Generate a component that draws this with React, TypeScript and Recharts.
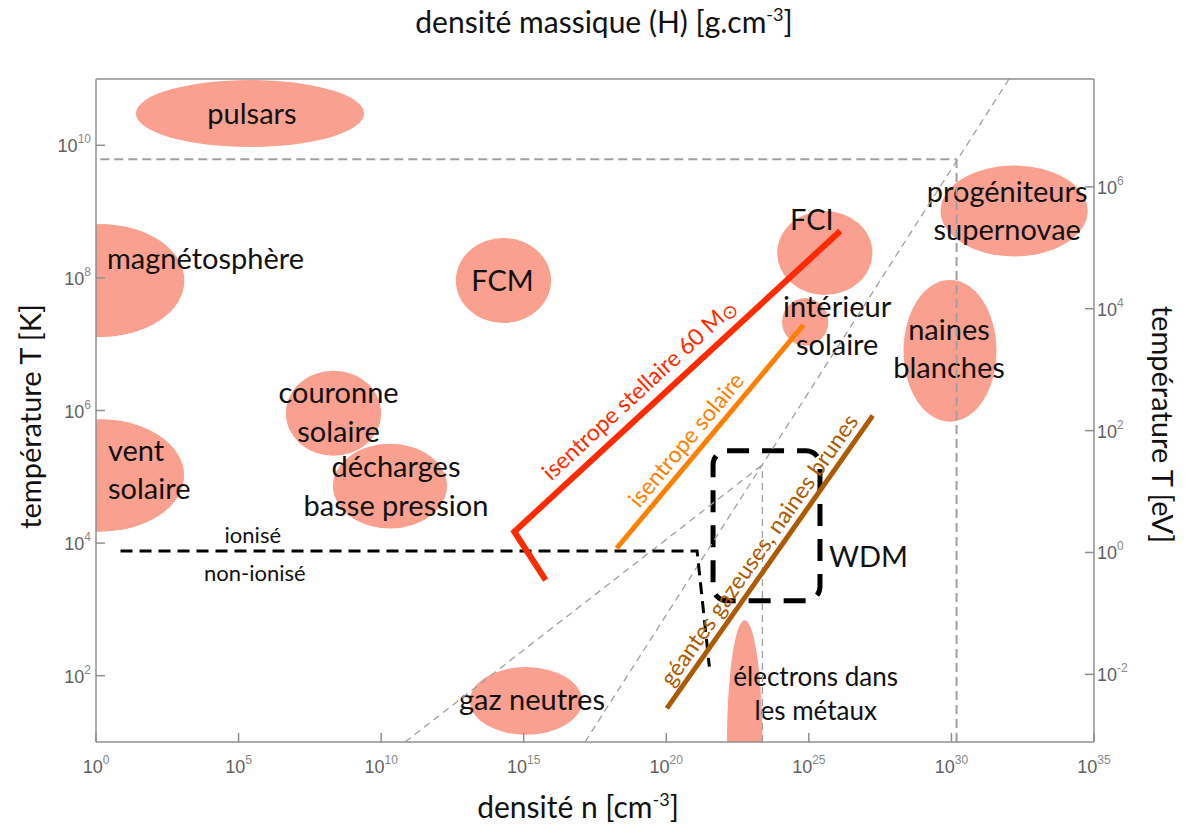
import React from 'react';
import {
  ComposedChart,
  XAxis,
  YAxis,
  Line,
  Label,
  ReferenceArea,
  ReferenceLine,
  ReferenceDot,
} from 'recharts';

const WIDTH = 1186;
const HEIGHT = 830;

const TEXT_FONT = 'Lato, "Open Sans", sans-serif';
const TICK_FONT = '"Liberation Sans", Arial, sans-serif';
const AXIS_COLOR = '#8f8f8f';
const TICK_COLOR = '#5f5f5f';
const BLOB_COLOR = '#f9a090';
const GUIDE_COLOR = '#a0a0a0';
const RED = '#ff2a00';
const ORANGE = '#ff8000';
const BROWN = '#ad5a00';

// all values are log10 : density n [cm^-3] on x, temperature T [K] on y
const densityTicks = [0, 5, 10, 15, 20, 25, 30, 35];
const massTicks = [-20, -15, -10, -5, 0, 5, 10];
const kelvinTicks = [2, 4, 6, 8, 10];
const evTicks = [-2, 0, 2, 4, 6];

const densityDomain = [0, 35];
const massDomain = [-23.75, 11.25];
const kelvinDomain = [1, 11];
const evDomain = [-3.11, 7.77];

// plasma regimes (ellipses): centre and half extent, in decades
const regionText = [
  ['pulsars'],
  ['magnétosphère'],
  ['FCM'],
  ['couronne', 'solaire'],
  ['décharges', 'basse pression'],
  ['vent', 'solaire'],
  ['gaz neutres'],
  ['électrons dans', 'les métaux'],
  ['FCI'],
  ['intérieur', 'solaire'],
  ['naines', 'blanches'],
  ['progéniteurs', 'supernovae'],
];
const regionN = [5.4, 0.14, 14.29, 8.33, 10.31, 0.14, 15.08, 22.75, 25.56, 24.87, 29.95, 32.2];
const regionT = [10.48, 7.96, 7.96, 5.96, 4.86, 5.02, 1.62, 0.95, 8.375, 7.335, 6.9, 9.01];
const regionHalfN = [4.0, 2.96, 1.67, 1.67, 2.0, 2.95, 1.97, 0.624, 1.67, 0.81, 1.63, 2.58];
const regionHalfT = [0.505, 0.852, 0.641, 0.641, 0.638, 0.848, 0.51, 1.885, 0.633, 0.36, 1.07, 0.686];

// label placement relative to the ellipse centre (px)
const regionLabelStyle = [
  { dx: 2, dy: 0 },
  { dx: 7, dy: -22, anchor: 'start' },
  { dx: -1, dy: 0 },
  { dx: 5, dy: -1, lh: 39 },
  { dx: 6, dy: 0, lh: 39 },
  { dx: 8, dy: -6, lh: 38, anchor: 'start' },
  { dx: 6, dy: -1 },
  { dx: 71, dy: -52, lh: 34, size: 26 },
  { dx: -13, dy: -33 },
  { dx: 32, dy: 4, lh: 38 },
  { dx: -1, dy: -2, lh: 38 },
  { dx: -7, dy: 0, lh: 38 },
];

// isentropes and boundaries
const stellarN = [15.77, 14.67, 26.1];
const stellarT = [3.443, 4.172, 8.707];
const solarN = [18.26, 24.81];
const solarT = [3.922, 7.29];
const giantN = [20.02, 27.24];
const giantT = [1.508, 5.922];
const ionN = [0.86, 21.08, 21.51];
const ionT = [3.881, 3.881, 2.136];

// grey dashed guides: [n1, T1, n2, T2]
const guideSegments = [
  [0.15, 9.79, 30.18, 9.79],
  [30.18, 1, 30.18, 9.79],
  [17.15, 1, 32.02, 11],
  [10.84, 1, 23.37, 5.18],
  [23.37, 1, 23.37, 5.18],
];
const guideWidth = [2, 2, 1.3, 1.3, 1.3];

// warm dense matter box
const wdmN = [21.64, 25.39];
const wdmT = [3.131, 5.394];

// inline curve labels
const curveText = ['isentrope stellaire 60 M', 'isentrope solaire', 'géantes gazeuses, naines brunes'];
const curveLabelN = [19.04, 20.69, 23.25];
const curveLabelT = [6.32, 5.56, 3.9];
const curveAngle = [-42.7, -50.3, -54.9];
const curveColor = [RED, ORANGE, BROWN];

const ionLabelN = 5.5;

const toPoints = (ns: number[], ts: number[]) => ns.map((n, i) => ({ n, t: ts[i] }));

const PowTick = (props: any) => {
  const { x, y, payload, side } = props;
  let l = [x, y, x, y];
  let tx = x;
  let ty = y;
  let anchor = 'middle';
  if (side === 'bottom') {
    l = [x, y, x, y - 9];
    ty = y + 31;
  } else if (side === 'top') {
    l = [x, y, x, y + 9];
    ty = y - 7;
  } else if (side === 'left') {
    l = [x, y, x + 9, y];
    tx = x - 5;
    ty = y + 7;
    anchor = 'end';
  } else {
    l = [x, y, x - 9, y];
    tx = x + 3;
    ty = y + 7;
    anchor = 'start';
  }
  return (
    <g>
      <line x1={l[0]} y1={l[1]} x2={l[2]} y2={l[3]} stroke={AXIS_COLOR} strokeWidth={1.5} />
      <text x={tx} y={ty} textAnchor={anchor} fontFamily={TICK_FONT} fontSize={18} fill={TICK_COLOR}>
        10
        <tspan dy={-9} fontSize={12} fill="#888">
          {payload.value}
        </tspan>
      </text>
    </g>
  );
};

const titleProps = { fontFamily: TEXT_FONT, fill: '#111' };

const TopTitle = ({ viewBox }: any) => (
  <text x={viewBox.x + viewBox.width / 2 + 9} y={viewBox.y + 33} textAnchor="middle" fontSize={30} {...titleProps}>
    densité massique (H) [g.cm
    <tspan dy={-12} fontSize={18}>-3</tspan>
    <tspan dy={12}>]</tspan>
  </text>
);

const BottomTitle = ({ viewBox }: any) => (
  <text x={viewBox.x + viewBox.width / 2 - 17} y={viewBox.y + 76} textAnchor="middle" fontSize={30} {...titleProps}>
    densité n [cm
    <tspan dy={-12} fontSize={18}>-3</tspan>
    <tspan dy={12}>]</tspan>
  </text>
);

const LeftTitle = ({ viewBox }: any) => {
  const x = viewBox.x + 41;
  const y = viewBox.y + viewBox.height / 2 + 6;
  return (
    <text x={x} y={y} transform={`rotate(-90 ${x} ${y})`} textAnchor="middle" fontSize={29} {...titleProps}>
      température T [K]
    </text>
  );
};

const RightTitle = ({ viewBox }: any) => {
  const x = viewBox.x + 58;
  const y = viewBox.y + viewBox.height / 2 + 14;
  return (
    <text x={x} y={y} transform={`rotate(90 ${x} ${y})`} textAnchor="middle" fontSize={29} {...titleProps}>
      température T [eV]
    </text>
  );
};

const Blob = (p: any) => (
  <ellipse
    cx={p.x + p.width / 2}
    cy={p.y + p.height / 2}
    rx={p.width / 2}
    ry={p.height / 2}
    fill={BLOB_COLOR}
    clipPath={p.clipPath}
  />
);

const regionLabel = (i: number) => (p: any) => {
  const s: any = regionLabelStyle[i];
  const lines = regionText[i];
  const lh = s.lh || 38;
  const x = p.x + p.width / 2 + s.dx;
  const y0 = p.y + p.height / 2 + s.dy - ((lines.length - 1) * lh) / 2;
  return (
    <text textAnchor={s.anchor || 'middle'} fontFamily={TEXT_FONT} fontSize={s.size || 29} fill="#111">
      {lines.map((line, k) => (
        <tspan key={k} x={x} y={y0 + k * lh} dy="0.36em">
          {line}
        </tspan>
      ))}
    </text>
  );
};

const curveLabel = (i: number) => (p: any) => (
  <text
    x={p.cx}
    y={p.cy}
    dy="0.36em"
    transform={`rotate(${curveAngle[i]} ${p.cx} ${p.cy})`}
    textAnchor="middle"
    fontFamily={TEXT_FONT}
    fontSize={23}
    fill={curveColor[i]}
  >
    {curveText[i]}
    {i === 0 && (
      <tspan fontFamily="DejaVu Sans" fontSize={19} dy={3}>
        ⊙
      </tspan>
    )}
  </text>
);

const IonLabels = (p: any) => (
  <g fontFamily={TEXT_FONT} fontSize={22} fill="#111" textAnchor="middle">
    <text x={p.cx} y={p.cy - 16} dy="0.36em">
      ionisé
    </text>
    <text x={p.cx + 2} y={p.cy + 22} dy="0.36em">
      non-ionisé
    </text>
  </g>
);

const WdmBox = (p: any) => (
  <g>
    <rect
      x={p.x}
      y={p.y}
      width={p.width}
      height={p.height}
      rx={14}
      fill="none"
      stroke="#000"
      strokeWidth={5}
      strokeDasharray="22 13"
    />
    <text
      x={p.x + p.width + 9}
      y={p.y + p.height / 2 + 31}
      dy="0.36em"
      fontFamily={TEXT_FONT}
      fontSize={29}
      fill="#111"
    >
      WDM
    </text>
  </g>
);

export default function App() {
  return (
    <div style={{ width: WIDTH, height: HEIGHT, background: '#fff' }}>
      <style>{'body{margin:0}'}</style>
      <ComposedChart width={WIDTH} height={HEIGHT} margin={{ top: 0, right: 0, bottom: 0, left: 0 }}>
        <XAxis
          xAxisId="n"
          dataKey="n"
          type="number"
          orientation="bottom"
          domain={densityDomain}
          ticks={densityTicks}
          allowDataOverflow
          interval={0}
          height={88}
          tickSize={0}
          tickMargin={0}
          tickLine={false}
          axisLine={{ stroke: AXIS_COLOR, strokeWidth: 1.5 }}
          tick={(p: any) => <PowTick {...p} side="bottom" />}
        >
          <Label content={BottomTitle} />
        </XAxis>
        <XAxis
          xAxisId="rho"
          type="number"
          orientation="top"
          domain={massDomain}
          ticks={massTicks}
          allowDataOverflow
          interval={0}
          height={79}
          tickSize={0}
          tickMargin={0}
          tickLine={false}
          axisLine={{ stroke: AXIS_COLOR, strokeWidth: 1.5 }}
          tick={(p: any) => <PowTick {...p} side="top" />}
        >
          <Label content={TopTitle} />
        </XAxis>
        <YAxis
          yAxisId="K"
          type="number"
          orientation="left"
          domain={kelvinDomain}
          ticks={kelvinTicks}
          allowDataOverflow
          interval={0}
          width={96}
          tickSize={0}
          tickMargin={0}
          tickLine={false}
          axisLine={{ stroke: AXIS_COLOR, strokeWidth: 1.5 }}
          tick={(p: any) => <PowTick {...p} side="left" />}
        >
          <Label content={LeftTitle} />
        </YAxis>
        <YAxis
          yAxisId="eV"
          type="number"
          orientation="right"
          domain={evDomain}
          ticks={evTicks}
          allowDataOverflow
          interval={0}
          width={92}
          tickSize={0}
          tickMargin={0}
          tickLine={false}
          axisLine={{ stroke: AXIS_COLOR, strokeWidth: 1.5 }}
          tick={(p: any) => <PowTick {...p} side="right" />}
        >
          <Label content={RightTitle} />
        </YAxis>

        {regionN.map((n, i) => (
          <ReferenceArea
            key={`blob-${i}`}
            xAxisId="n"
            yAxisId="K"
            x1={n - regionHalfN[i]}
            x2={n + regionHalfN[i]}
            y1={regionT[i] - regionHalfT[i]}
            y2={regionT[i] + regionHalfT[i]}
            ifOverflow="hidden"
            shape={Blob}
          />
        ))}

        {guideSegments.map((s, i) => (
          <ReferenceLine
            key={`guide-${i}`}
            xAxisId="n"
            yAxisId="K"
            segment={[
              { x: s[0], y: s[1] },
              { x: s[2], y: s[3] },
            ]}
            ifOverflow="visible"
            stroke={GUIDE_COLOR}
            strokeWidth={guideWidth[i]}
            strokeDasharray={guideWidth[i] > 1.5 ? '9 5' : '7 5'}
          />
        ))}

        <ReferenceArea
          xAxisId="n"
          yAxisId="K"
          x1={wdmN[0]}
          x2={wdmN[1]}
          y1={wdmT[0]}
          y2={wdmT[1]}
          ifOverflow="visible"
          shape={WdmBox}
        />

        <Line
          xAxisId="n"
          yAxisId="K"
          data={toPoints(ionN, ionT)}
          dataKey="t"
          stroke="#000"
          strokeWidth={3}
          strokeDasharray="12 7"
          dot={false}
          activeDot={false}
          isAnimationActive={false}
        />
        <Line
          xAxisId="n"
          yAxisId="K"
          data={toPoints(stellarN, stellarT)}
          dataKey="t"
          stroke={RED}
          strokeWidth={6}
          dot={false}
          activeDot={false}
          isAnimationActive={false}
        />
        <Line
          xAxisId="n"
          yAxisId="K"
          data={toPoints(solarN, solarT)}
          dataKey="t"
          stroke={ORANGE}
          strokeWidth={5}
          dot={false}
          activeDot={false}
          isAnimationActive={false}
        />
        <Line
          xAxisId="n"
          yAxisId="K"
          data={toPoints(giantN, giantT)}
          dataKey="t"
          stroke={BROWN}
          strokeWidth={5}
          dot={false}
          activeDot={false}
          isAnimationActive={false}
        />

        {regionN.map((n, i) => (
          <ReferenceArea
            key={`label-${i}`}
            xAxisId="n"
            yAxisId="K"
            x1={n - regionHalfN[i]}
            x2={n + regionHalfN[i]}
            y1={regionT[i] - regionHalfT[i]}
            y2={regionT[i] + regionHalfT[i]}
            ifOverflow="visible"
            shape={regionLabel(i)}
          />
        ))}

        {curveText.map((_, i) => (
          <ReferenceDot
            key={`curve-${i}`}
            xAxisId="n"
            yAxisId="K"
            x={curveLabelN[i]}
            y={curveLabelT[i]}
            r={0}
            ifOverflow="visible"
            shape={curveLabel(i)}
          />
        ))}

        <ReferenceDot
          xAxisId="n"
          yAxisId="K"
          x={ionLabelN}
          y={ionT[0]}
          r={0}
          ifOverflow="visible"
          shape={IonLabels}
        />
      </ComposedChart>
    </div>
  );
}
